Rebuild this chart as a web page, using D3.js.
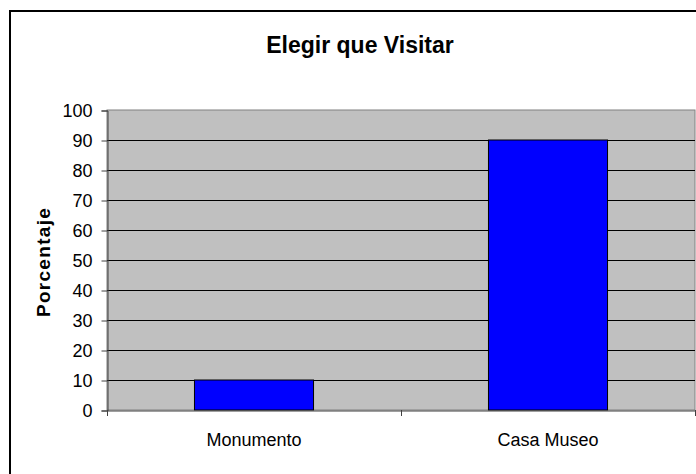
<!DOCTYPE html>
<html>
<head>
<meta charset="utf-8">
<script src="https://cdn.jsdelivr.net/npm/d3@7"></script>
<style>
  body { margin: 0; background: #fff; }
  svg { display: block; font-family: "Liberation Sans", Arial, sans-serif; }
</style>
</head>
<body>
<svg></svg>
<script>
let categories = ["Monumento", "Casa Museo"];
let values = [10, 90];
let yTicks = [0, 10, 20, 30, 40, 50, 60, 70, 80, 90, 100];

let width = 696;
let height = 474;
let plotLeft = 107;
let plotRight = 695;
let plotTop = 110;
let plotBottom = 410;

let svg = d3.select("svg").attr("width", width).attr("height", height);

// outer chart frame (runs past the window on right and bottom)
svg.append("rect")
  .attr("x", 10).attr("y", 11)
  .attr("width", 720).attr("height", 500)
  .attr("fill", "#fff")
  .attr("stroke", "#000")
  .attr("stroke-width", 2);

let xScale = d3.scaleBand()
  .domain(categories)
  .range([plotLeft, plotRight])
  .paddingInner(0.595)
  .paddingOuter(0.2975);

let yScale = d3.scaleLinear()
  .domain([0, 100])
  .range([plotBottom, plotTop]);

// plot background
svg.append("rect")
  .attr("x", plotLeft).attr("y", plotTop)
  .attr("width", plotRight - plotLeft).attr("height", plotBottom - plotTop)
  .attr("fill", "#c0c0c0")
  .attr("stroke", "#808080")
  .attr("stroke-width", 1);

// gridlines
svg.append("g")
  .selectAll("line")
  .data(yTicks.filter((d) => d > 0 && d < 100))
  .enter()
  .append("line")
  .attr("x1", plotLeft).attr("x2", plotRight)
  .attr("y1", (d) => yScale(d) + 0.5).attr("y2", (d) => yScale(d) + 0.5)
  .attr("stroke", "#000")
  .attr("stroke-width", 1);

// bars
svg.append("g")
  .selectAll("rect")
  .data(values)
  .enter()
  .append("rect")
  .attr("x", (d, i) => xScale(categories[i]))
  .attr("y", (d) => yScale(d))
  .attr("width", xScale.bandwidth())
  .attr("height", (d) => plotBottom - yScale(d))
  .attr("fill", "#0000ff")
  .attr("stroke", "#000")
  .attr("stroke-width", 1);

// y axis
let yAxis = d3.axisLeft(yScale).tickValues(yTicks).tickSize(6).tickPadding(9);
let gy = svg.append("g")
  .attr("transform", "translate(" + (plotLeft + 0.5) + ",0.5)")
  .call(yAxis);
gy.select(".domain").attr("stroke", "#404040");
gy.selectAll(".tick line").attr("stroke", "#404040");
gy.selectAll("text")
  .attr("font-size", 18)
  .attr("fill", "#000")
  .attr("font-family", "Liberation Sans, Arial, sans-serif");

// x axis
let xAxis = d3.axisBottom(xScale).tickSize(0).tickPadding(23);
let gx = svg.append("g")
  .attr("transform", "translate(0," + (plotBottom + 0.5) + ")")
  .call(xAxis);
gx.select(".domain").attr("stroke", "#404040");
gx.selectAll("text")
  .attr("font-size", 18)
  .attr("fill", "#000")
  .attr("font-family", "Liberation Sans, Arial, sans-serif");

// category separator ticks
svg.append("g")
  .selectAll("line")
  .data([0, 1, 2])
  .enter()
  .append("line")
  .attr("x1", (d) => plotLeft + d * (plotRight - plotLeft) / 2 + 0.5)
  .attr("x2", (d) => plotLeft + d * (plotRight - plotLeft) / 2 + 0.5)
  .attr("y1", plotBottom)
  .attr("y2", plotBottom + 6)
  .attr("stroke", "#404040");

// title
svg.append("text")
  .attr("x", 360).attr("y", 53)
  .attr("text-anchor", "middle")
  .attr("font-size", 23)
  .attr("font-weight", "bold")
  .text("Elegir que Visitar");

// y axis title
svg.append("text")
  .attr("transform", "translate(50,262) rotate(-90)")
  .attr("text-anchor", "middle")
  .attr("font-size", 19)
  .attr("font-weight", "bold")
  .attr("letter-spacing", 1.3)
  .text("Porcentaje");
</script>
</body>
</html>
